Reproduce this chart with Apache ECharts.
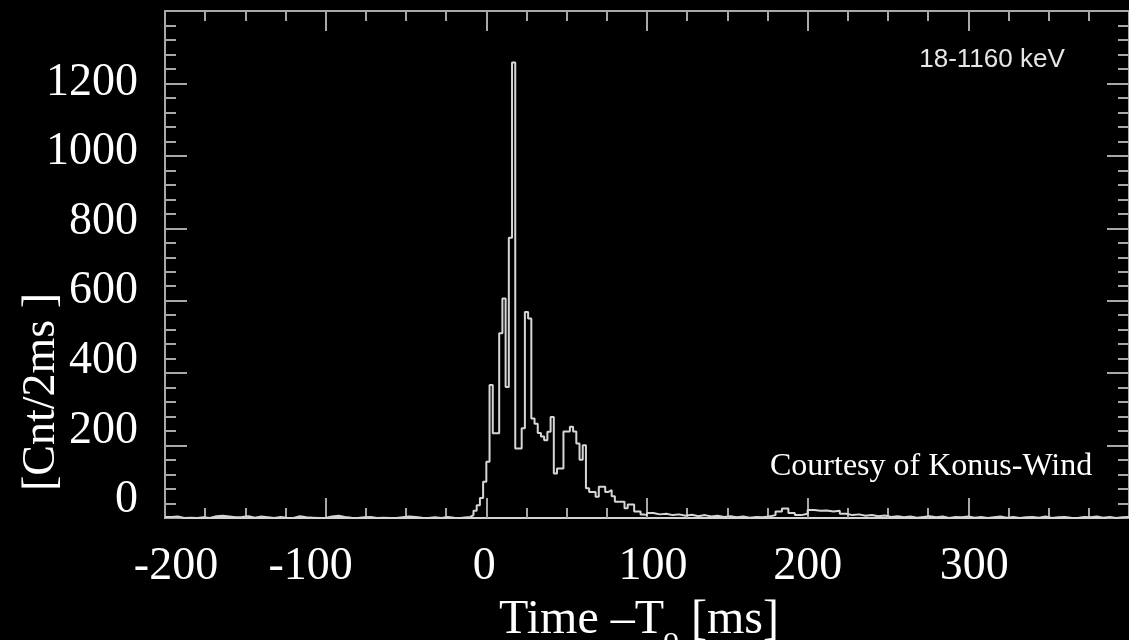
<!DOCTYPE html>
<html>
<head>
<meta charset="utf-8">
<script src="https://cdn.jsdelivr.net/npm/echarts@6/dist/echarts.min.js"></script>
<style>
html,body{margin:0;padding:0;background:#000;}
#chart{width:1129px;height:640px;}
</style>
</head>
<body>
<div id="chart"></div>
<script>
// ---- data (counts per bin) ----
const preBurstStart = -200;   // ms
const preBurstBin = 4;        // ms
const preBurstCounts = [
  3,4,0,1,0,2,0,5,6,4,
  2,3,5,1,4,2,0,3,1,0,
  5,2,1,0,0,4,6,3,1,0,
  2,3,0,1,0,0,2,4,3,1,
  0,2,0,3,1,0,2
];
const burstStart = -12;       // ms
const burstBin = 2;           // ms
const burstCounts = [
  3,8,20,35,55,100,155,367,234,234,
  510,606,362,774,1258,192,192,248,569,551,
  275,260,235,225,215,238,279,123,137,137,
  239,239,252,239,206,161,201,82,72,72,
  59,86,86,72,77,60,45,45,45,27,
  37,37,18,18,10,8
];
const tailStart = 100;        // ms
const tailBin = 4;            // ms
const tailCounts = [
  14,10,12,8,10,6,9,5,8,4,
  6,3,5,2,4,1,3,2,4,8,
  18,26,14,8,12,22,20,21,18,20,
  12,8,10,6,8,5,7,3,5,2,
  4,1,3,5,2,4,0,3,2,4,
  1,3,0,2,4,1,3,0,2,3,
  1,4,0,2,3,1,0,3,2,4,
  1,3,0,2,3
];
const xTickLabels = [-200, -100, 0, 100, 200, 300];
const yTickLabels = [0, 200, 400, 600, 800, 1000, 1200];
const xTitleMain = 'Time –T';
const xTitleSub = 'o';
const xTitleUnit = ' [ms]';
const yTitle = '[Cnt/2ms ]';
const energyBand = '18-1160 keV';
const credit = 'Courtesy of Konus-Wind';

// ---- build step data ----
const stepData = [];
function addSegment(start, bin, counts) {
  counts.forEach((c, i) => stepData.push([start + i * bin, c]));
  return start + counts.length * bin;
}
addSegment(preBurstStart, preBurstBin, preBurstCounts);
addSegment(burstStart, burstBin, burstCounts);
const tEnd = addSegment(tailStart, tailBin, tailCounts);
stepData.push([tEnd, tailCounts[tailCounts.length - 1]]);

const frameColor = '#a8a8a8';
const serif = '"Liberation Serif", "DejaVu Serif", serif';

// slide labels were placed by hand: small horizontal nudges (px) per label
const xLabelNudge = { '-200': 11, '-100': -15, '0': -2, '100': 6, '200': 0, '300': 6 };
const xRich = {};
Object.keys(xLabelNudge).forEach((k, i) => {
  const n = xLabelNudge[k];
  xRich['n' + i] = {
    fontFamily: serif, fontSize: 46, color: '#fff',
    padding: n >= 0 ? [0, 0, 0, 2 * n] : [0, -2 * n, 0, 0]
  };
});

const chart = echarts.init(document.getElementById('chart'));
const titleAnchorX = 664;
const option = {
  backgroundColor: '#000',
  animation: false,
  grid: { left: 165, right: -3, top: 11, bottom: 122, containLabel: false },
  xAxis: [
    {
      type: 'value', position: 'bottom', min: -200, max: 400, interval: 100,
      axisLine: { show: true, onZero: false, lineStyle: { color: '#d4d4d4', width: 2 } },
      axisTick: { show: true, inside: true, length: 20, lineStyle: { color: frameColor, width: 2 } },
      minorTick: { show: true, splitNumber: 4, length: 10, lineStyle: { color: frameColor, width: 2 } },
      splitLine: { show: false },
      axisLabel: {
        show: true, color: '#fff', fontFamily: serif, fontSize: 46, margin: 26,
        customValues: xTickLabels,
        formatter: v => {
          const idx = Object.keys(xLabelNudge).indexOf(String(v));
          return idx >= 0 ? '{n' + idx + '|' + v + '}' : String(v);
        },
        rich: xRich
      }
    },
    {
      type: 'value', position: 'top', min: -200, max: 400, interval: 100,
      axisLine: { show: true, onZero: false, lineStyle: { color: frameColor, width: 2 } },
      axisTick: { show: true, inside: true, length: 20, lineStyle: { color: frameColor, width: 2 } },
      minorTick: { show: true, splitNumber: 4, length: 10, lineStyle: { color: frameColor, width: 2 } },
      splitLine: { show: false },
      axisLabel: { show: false }
    }
  ],
  yAxis: [
    {
      type: 'value', position: 'left', min: 0, max: 1400, interval: 200,
      axisLine: { show: true, onZero: false, lineStyle: { color: frameColor, width: 2 } },
      axisTick: { show: true, inside: true, length: 22, lineStyle: { color: frameColor, width: 2 } },
      minorTick: { show: true, splitNumber: 5, length: 11, lineStyle: { color: frameColor, width: 2 } },
      splitLine: { show: false },
      axisLabel: { show: false }
    },
    {
      type: 'value', position: 'right', min: 0, max: 1400, interval: 200,
      axisLine: { show: true, onZero: false, lineStyle: { color: frameColor, width: 2 } },
      axisTick: { show: true, inside: true, length: 22, lineStyle: { color: frameColor, width: 2 } },
      minorTick: { show: true, splitNumber: 5, length: 11, lineStyle: { color: frameColor, width: 2 } },
      splitLine: { show: false },
      axisLabel: { show: false }
    },
    {
      // label-only axis: the slide's labels sit on a slightly tighter spacing than the ticks
      type: 'value', position: 'left', min: -51.8, max: 1406.2,
      axisLine: { show: false, onZero: false }, axisTick: { show: false }, splitLine: { show: false },
      axisLabel: {
        show: true, color: '#fff', fontFamily: serif, fontSize: 46, margin: 27,
        customValues: yTickLabels, formatter: v => String(v)
      }
    }
  ],
  series: [
    {
      type: 'line', xAxisIndex: 0, yAxisIndex: 0, step: 'end',
      data: stepData, symbol: 'none',
      lineStyle: { color: '#d6d6d6', width: 2 },
      z: 3
    }
  ],
  graphic: [
    {
      type: 'text', x: titleAnchorX, y: 620,
      style: {
        text: xTitleMain, fontFamily: serif, fontSize: 48,
        align: 'right', verticalAlign: 'middle', fill: '#fff'
      }
    },
    {
      type: 'text', x: titleAnchorX - 1, y: 640,
      style: {
        text: xTitleSub, fontFamily: serif, fontSize: 32,
        align: 'left', verticalAlign: 'middle', fill: '#fff'
      }
    },
    {
      type: 'text', x: titleAnchorX + 15, y: 620,
      style: {
        text: xTitleUnit, fontFamily: serif, fontSize: 48,
        align: 'left', verticalAlign: 'middle', fill: '#fff'
      }
    },
    {
      type: 'text', x: 42, y: 392, rotation: Math.PI / 2,
      style: {
        text: yTitle, fontFamily: serif, fontSize: 46,
        align: 'center', verticalAlign: 'middle', fill: '#fff'
      }
    },
    {
      type: 'text', x: 992, y: 60,
      style: {
        text: energyBand, fontFamily: '"Liberation Sans", Arial, sans-serif', fontSize: 26,
        align: 'center', verticalAlign: 'middle', fill: '#e6e6e6'
      }
    },
    {
      type: 'text', x: 770, y: 467,
      style: {
        text: credit, fontFamily: serif, fontSize: 32,
        align: 'left', verticalAlign: 'middle', fill: '#fff'
      }
    }
  ]
};
chart.setOption(option);
</script>
</body>
</html>
